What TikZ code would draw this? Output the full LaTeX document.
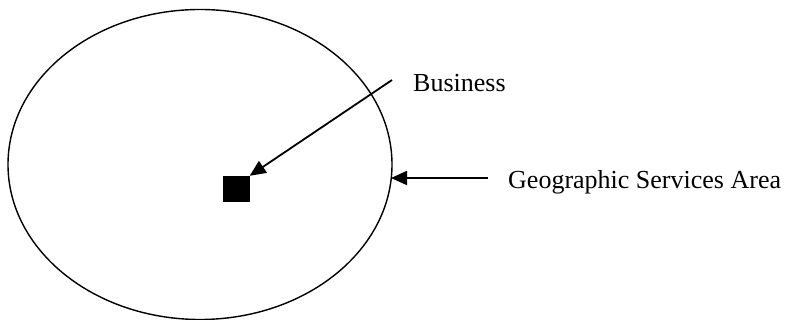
\documentclass[tikz,border=0pt]{standalone}
\usepackage{fontspec}
\setmainfont{Liberation Serif}
\usetikzlibrary{shapes.geometric,arrows.meta}
\begin{document}
\begin{tikzpicture}[x=1pt,y=-1pt,
  areabox/.style={draw,ellipse,line width=1.4pt,minimum width=384pt,minimum height=310pt,inner sep=0pt},
  bizbox/.style={fill=black,minimum width=27pt,minimum height=26pt,inner sep=0pt},
  lbl/.style={anchor=base west,inner sep=0pt,font=\fontsize{26}{30}\selectfont},
  arr/.style={line width=1.8pt,-{Triangle[length=16pt,width=14pt]}}]
\useasboundingbox (0,0) rectangle (790,320);
\node[areabox] (area) at (200,164.5) {};
\node[bizbox] (biz) at (236,189) {};
\node[lbl] (btxt) at (413,92) {Business};
\node[lbl] (gtxt) at (508,189) {Geographic Services Area};
\coordinate (btail) at (392,80);
\coordinate (gtail) at (488,178);
\coordinate (gtip) at (391,178);
\draw[arr] (btail) -- (biz.north east);
\draw[arr] (gtail) -- (gtip);
\end{tikzpicture}
\end{document}
